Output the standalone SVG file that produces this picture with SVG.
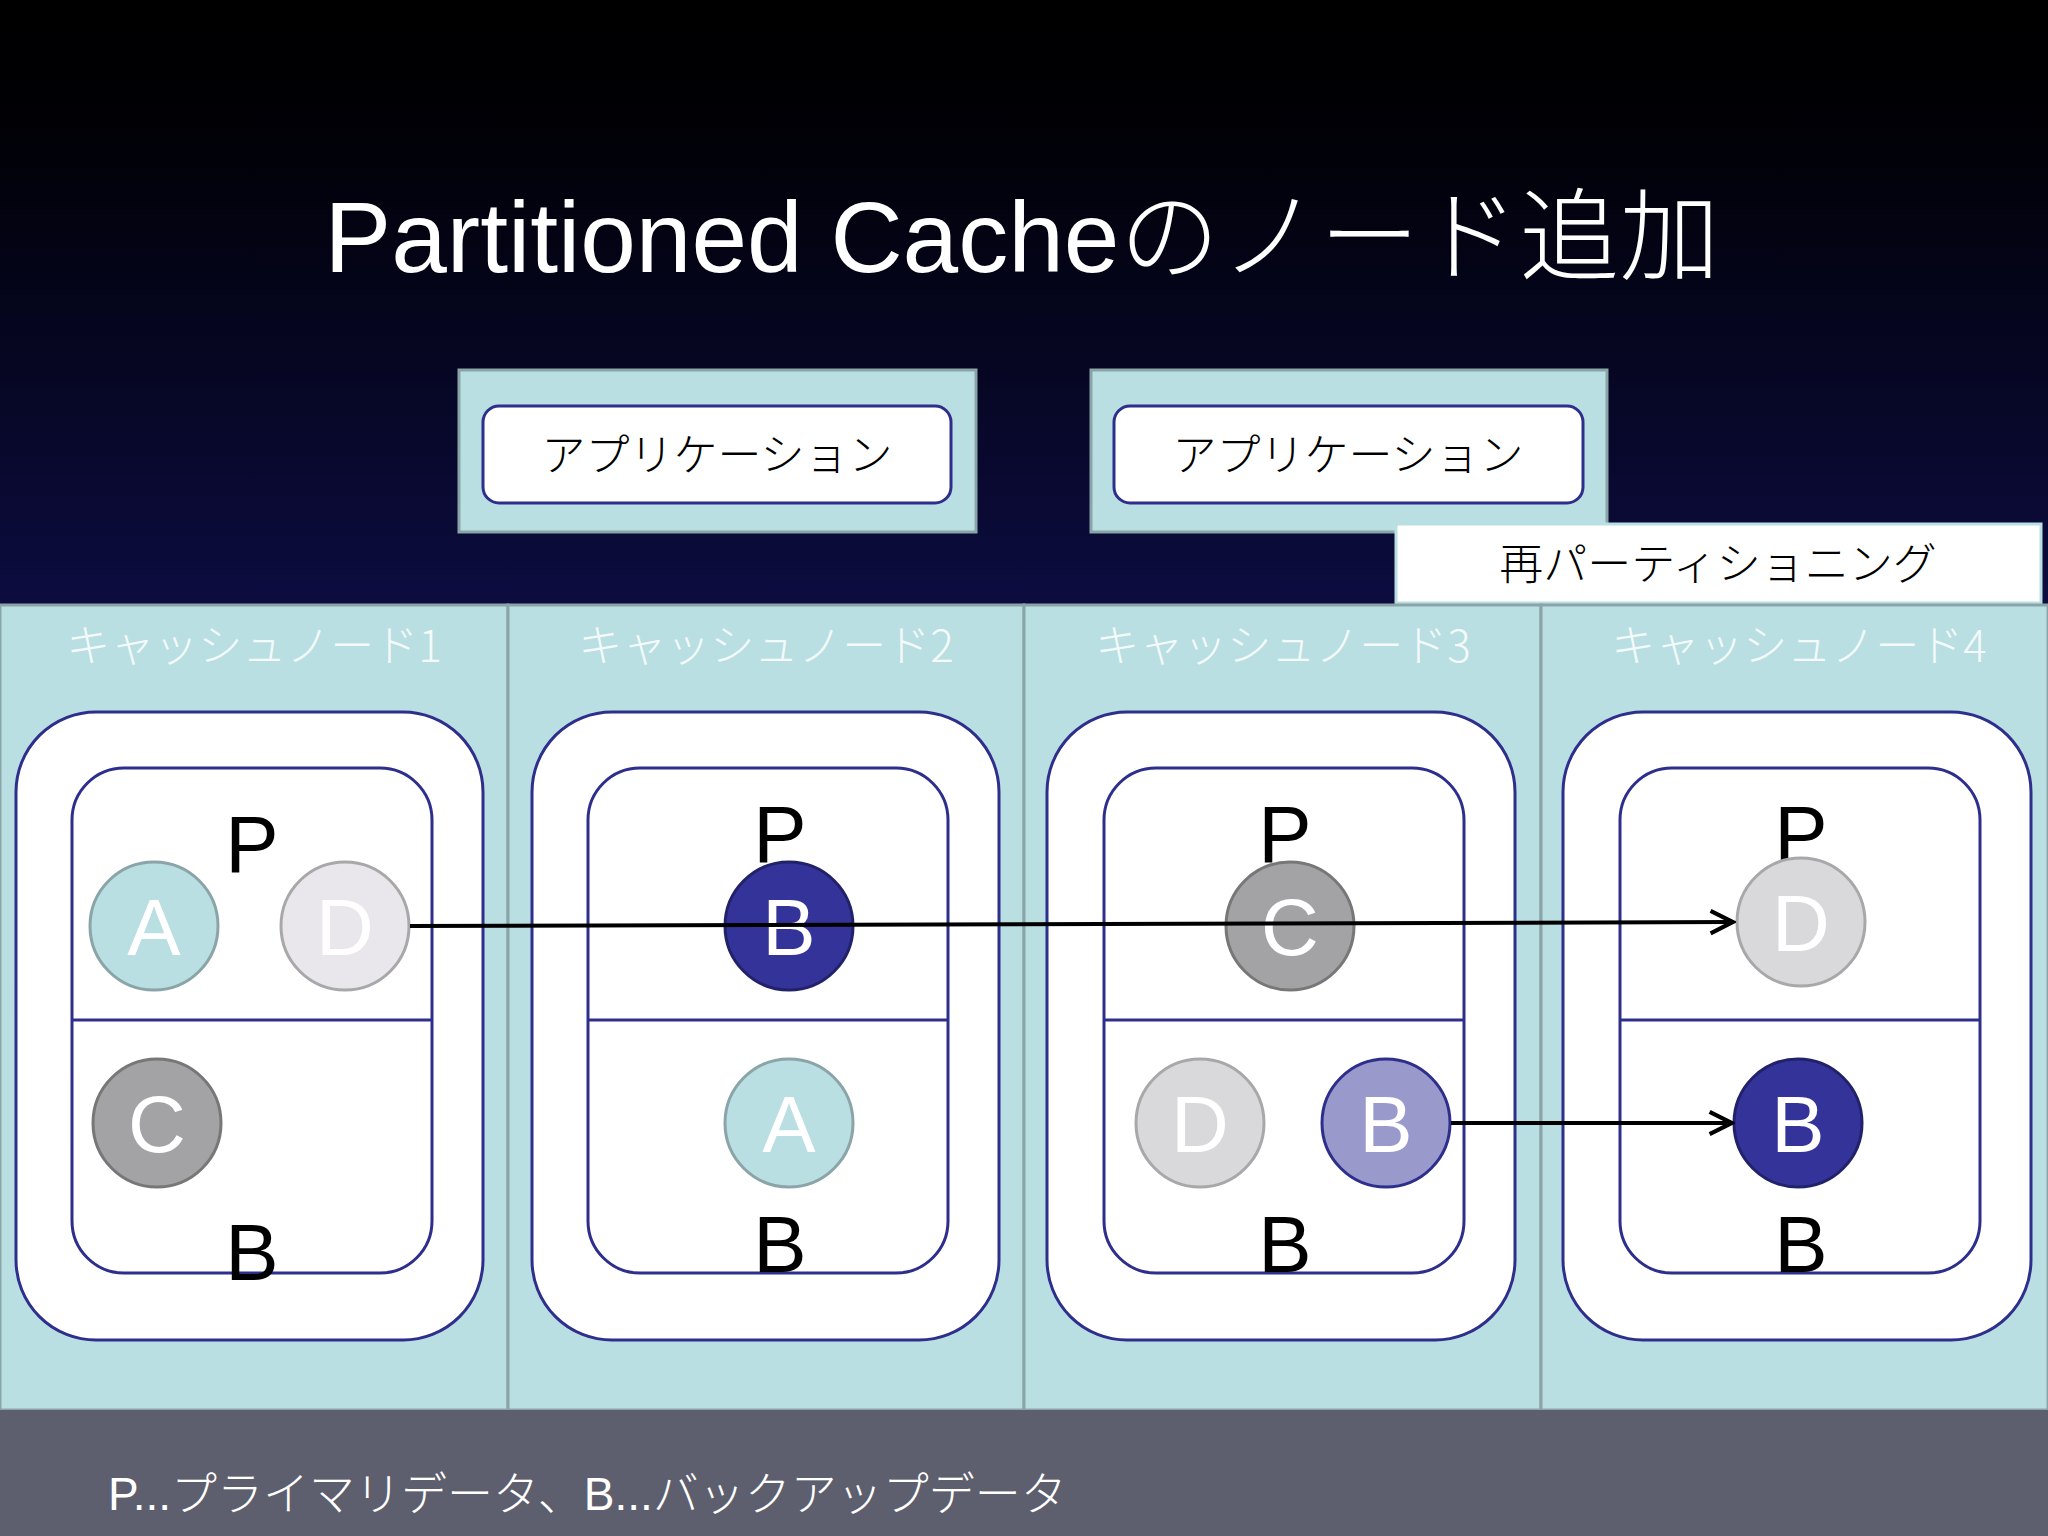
<svg xmlns="http://www.w3.org/2000/svg" width="2048" height="1536" viewBox="0 0 2048 1536">
<defs>
<linearGradient id="bg" x1="0" y1="0" x2="0" y2="1"><stop offset="0" stop-color="#000"/><stop offset="0.2" stop-color="#000005"/><stop offset="1" stop-color="#0c0c40"/></linearGradient>
<marker id="ah" viewBox="0 0 20 20" refX="18" refY="10" markerWidth="7" markerHeight="7" orient="auto" markerUnits="strokeWidth"><path d="M2,2 L18,10 L2,18" fill="none" stroke="#000" stroke-width="3"/></marker>
</defs>
<style>
.jp{font-family:"Noto Sans CJK JP",sans-serif}
.col{fill:#b9dfe2;stroke:#8aa4a8;stroke-width:3}
.outer{fill:#fff;stroke:#2e2e8c;stroke-width:3}
.lbl{font-family:"Liberation Sans",Arial,sans-serif;font-size:80px;fill:#000;text-anchor:middle}
.cl{font-family:"Liberation Sans",Arial,sans-serif;font-size:80px;fill:#fff;text-anchor:middle}
.colt{font-family:"Noto Sans CJK JP",sans-serif;font-size:44px;fill:#f4fafa;text-anchor:middle;font-weight:300}
.app{font-family:"Noto Sans CJK JP",sans-serif;font-size:44px;fill:#000;text-anchor:middle;font-weight:300}
</style>
<rect width="2048" height="605" fill="url(#bg)"/>
<text x="1022" y="272" font-family="Liberation Sans,Arial,Noto Sans CJK JP,sans-serif" font-size="100" fill="#fff" text-anchor="middle">Partitioned Cache<tspan font-family="Noto Sans CJK JP,sans-serif" font-weight="300">のノード追加</tspan></text>
<g id="app1"><rect x="459" y="370" width="517" height="162" class="col"/><rect x="483" y="406" width="468" height="97" rx="16" class="outer"/><text x="717" y="471" class="app">アプリケーション</text></g>
<g id="app2"><rect x="1091" y="370" width="516" height="162" class="col"/><rect x="1114" y="406" width="469" height="97" rx="16" class="outer"/><text x="1348" y="471" class="app">アプリケーション</text></g>
<g id="repart"><rect x="1396" y="524" width="645" height="79" fill="#fff" stroke="#b9dfe2" stroke-width="3"/><text x="1718" y="580" class="app">再パーティショニング</text></g>
<g id="node1"><rect x="0" y="605" width="508" height="805" class="col"/><text x="254" y="662" class="colt">キャッシュノード1</text>
<rect x="16" y="712" width="467" height="628" rx="80" class="outer"/><rect x="72" y="768" width="360" height="505" rx="52" class="outer"/><line x1="72" y1="1020" x2="432" y2="1020" stroke="#2e2e8c" stroke-width="3"/>
<text x="252" y="872" class="lbl">P</text><text x="252" y="1280" class="lbl">B</text>
<circle cx="154" cy="926" r="64" fill="#b9dfe2" stroke="#8aa4a8" stroke-width="3"/><text x="154" y="955" class="cl">A</text>
<circle cx="345" cy="926" r="64" fill="#e9e7ec" stroke="#a8a8aa" stroke-width="3"/><text x="345" y="955" class="cl">D</text>
<circle cx="157" cy="1123" r="64" fill="#a3a3a6" stroke="#777" stroke-width="3"/><text x="157" y="1152" class="cl">C</text></g>
<g id="node2"><rect x="508" y="605" width="516" height="805" class="col"/><text x="766" y="662" class="colt">キャッシュノード2</text>
<rect x="532" y="712" width="467" height="628" rx="80" class="outer"/><rect x="588" y="768" width="360" height="505" rx="52" class="outer"/><line x1="588" y1="1020" x2="948" y2="1020" stroke="#2e2e8c" stroke-width="3"/>
<text x="780" y="862" class="lbl">P</text><text x="780" y="1272" class="lbl">B</text>
<circle cx="789" cy="926" r="64" fill="#33339a" stroke="#22226a" stroke-width="3"/><text x="789" y="955" class="cl">B</text>
<circle cx="789" cy="1123" r="64" fill="#b9dfe2" stroke="#8aa4a8" stroke-width="3"/><text x="789" y="1152" class="cl">A</text></g>
<g id="node3"><rect x="1024" y="605" width="517" height="805" class="col"/><text x="1283" y="662" class="colt">キャッシュノード3</text>
<rect x="1047" y="712" width="468" height="628" rx="80" class="outer"/><rect x="1104" y="768" width="360" height="505" rx="52" class="outer"/><line x1="1104" y1="1020" x2="1464" y2="1020" stroke="#2e2e8c" stroke-width="3"/>
<text x="1285" y="862" class="lbl">P</text><text x="1285" y="1272" class="lbl">B</text>
<circle cx="1290" cy="926" r="64" fill="#a3a3a6" stroke="#777" stroke-width="3"/><text x="1290" y="955" class="cl">C</text>
<circle cx="1200" cy="1123" r="64" fill="#d9d9dc" stroke="#a8a8aa" stroke-width="3"/><text x="1200" y="1152" class="cl">D</text>
<circle cx="1386" cy="1123" r="64" fill="#9999cc" stroke="#2e2e8c" stroke-width="3"/><text x="1386" y="1152" class="cl">B</text></g>
<g id="node4"><rect x="1541" y="605" width="507" height="805" class="col"/><text x="1799" y="662" class="colt">キャッシュノード4</text>
<rect x="1563" y="712" width="468" height="628" rx="80" class="outer"/><rect x="1620" y="768" width="360" height="505" rx="52" class="outer"/><line x1="1620" y1="1020" x2="1980" y2="1020" stroke="#2e2e8c" stroke-width="3"/>
<text x="1801" y="862" class="lbl">P</text><text x="1801" y="1272" class="lbl">B</text>
<circle cx="1801" cy="922" r="64" fill="#d9d9dc" stroke="#a8a8aa" stroke-width="3"/><text x="1801" y="951" class="cl">D</text>
<circle cx="1798" cy="1123" r="64" fill="#33339a" stroke="#22226a" stroke-width="3"/><text x="1798" y="1152" class="cl">B</text></g>
<g id="connectors" stroke="#000" stroke-width="4" fill="none">
<line x1="410" y1="926" x2="1733" y2="922" marker-end="url(#ah)"/>
<line x1="1451" y1="1123" x2="1732" y2="1123" marker-end="url(#ah)"/>
</g>
<rect x="0" y="1410" width="2048" height="126" fill="#5e5f6e"/>
<text x="108" y="1510" font-family="Liberation Sans,Arial,Noto Sans CJK JP,sans-serif" font-size="46" fill="#fff">P...<tspan font-family="Noto Sans CJK JP,sans-serif" font-weight="300">プライマリデータ、</tspan>B...<tspan font-family="Noto Sans CJK JP,sans-serif" font-weight="300">バックアップデータ</tspan></text>
</svg>
